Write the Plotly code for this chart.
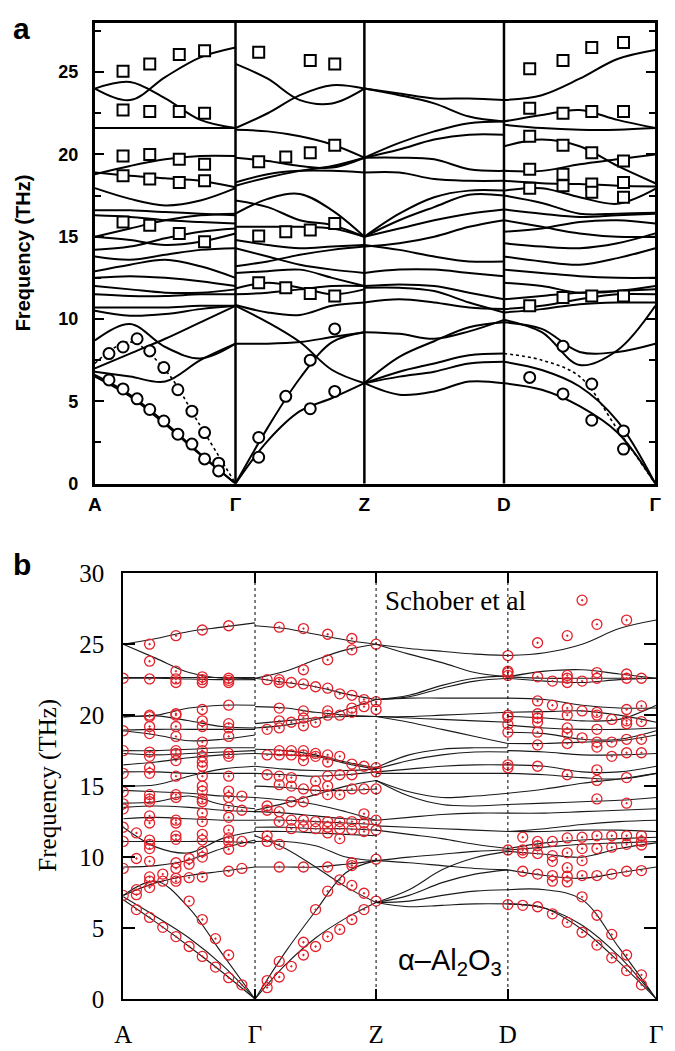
import plotly.graph_objects as go

W, H = 675, 1051
LABELS = ["A", "Γ", "Z", "D", "Γ"]
A_NODES = [0, 144, 276, 419, 574]      # path length along A-Γ-Z-D-Γ (panel a)
B_NODES = [0, 135, 259, 394, 546]      # path length along A-Γ-Z-D-Γ (panel b)

# ---------------- panel a: calculated branches (5 samples per segment) ----------------
A_SEG1 = [
    [24.0, 23.3, 24.7, 25.9, 26.5], [24.0, 24.4, 23.4, 22.1, 21.6], [21.6, 21.6, 21.6, 21.6, 21.6],
    [18.8, 19.3, 19.7, 19.9, 19.9], [18.9, 18.7, 18.55, 18.4, 18.0], [17.95, 17.3, 16.9, 17.2, 17.95],
    [16.6, 16.6, 16.5, 16.4, 16.3], [16.3, 16.2, 16.0, 15.9, 15.8], [15.0, 15.5, 16.0, 16.3, 16.4],
    [15.0, 14.8, 14.5, 14.7, 15.2], [14.2, 14.4, 14.9, 15.3, 15.5], [13.8, 13.6, 13.9, 14.2, 14.3],
    [12.9, 13.3, 13.6, 13.2, 12.5], [12.5, 12.6, 12.5, 12.3, 12.0], [12.0, 11.8, 11.6, 11.6, 11.8],
    [11.5, 11.4, 11.4, 11.5, 11.5], [10.7, 10.7, 10.7, 10.8, 10.8], [10.5, 10.2, 10.3, 10.6, 10.8],
    [8.7, 9.7, 8.3, 7.6, 8.5], [7.0, 7.9, 8.8, 9.8, 10.8], [6.8, 6.5, 6.2, 7.5, 8.5],
    [6.6, 5.4, 3.7, 1.8, 0.0], [6.5, 5.3, 3.6, 1.75, 0.0],
]
A_SEG2 = [
    [25.5, 24.6, 23.3, 23.1, 24.0], [21.6, 22.5, 23.6, 24.2, 24.0], [21.5, 21.4, 21.1, 20.6, 19.8],
    [19.8, 19.6, 19.3, 19.2, 19.8], [18.1, 18.6, 19.0, 19.3, 19.8], [18.3, 18.8, 19.0, 19.0, 18.9],
    [16.4, 17.3, 17.6, 16.6, 15.0], [17.2, 16.8, 16.0, 15.7, 15.0], [15.6, 15.6, 15.6, 15.5, 15.0],
    [14.8, 14.5, 14.3, 14.4, 14.5], [14.3, 13.8, 13.3, 13.0, 12.8], [13.2, 13.5, 13.9, 14.2, 14.4],
    [12.8, 12.9, 13.0, 12.5, 12.0], [11.85, 12.2, 11.9, 11.5, 11.8], [11.5, 11.6, 11.8, 12.0, 12.0],
    [10.85, 10.4, 10.25, 10.8, 11.0], [10.8, 9.8, 8.6, 6.9, 6.1], [8.5, 8.5, 8.6, 8.9, 9.2],
    [0.0, 3.4, 6.4, 8.6, 9.2], [0.0, 2.6, 4.4, 5.2, 6.1],
]
A_SEG3 = [
    [24.0, 23.7, 23.4, 23.4, 23.3], [24.0, 23.6, 23.1, 22.3, 22.0], [19.8, 20.7, 21.4, 21.9, 22.0],
    [19.8, 20.3, 20.9, 21.2, 21.2], [19.8, 19.8, 19.7, 19.1, 19.0], [18.9, 18.9, 18.5, 18.4, 18.4],
    [15.0, 16.4, 17.4, 17.8, 17.8], [15.0, 16.0, 16.8, 17.55, 17.5], [15.0, 15.5, 16.0, 16.4, 16.65],
    [14.4, 14.6, 15.0, 15.6, 16.0], [14.5, 14.2, 13.8, 13.5, 13.5], [12.8, 13.0, 13.0, 12.8, 12.6],
    [12.0, 12.1, 12.0, 11.6, 11.2], [11.9, 11.9, 11.7, 11.0, 10.4], [11.0, 11.2, 11.0, 10.7, 10.6],
    [9.2, 9.1, 8.8, 9.25, 9.95], [6.1, 7.7, 8.65, 9.5, 9.8], [6.1, 6.8, 7.3, 7.8, 7.9],
    [6.1, 6.5, 6.8, 7.3, 7.4], [6.1, 5.4, 5.6, 6.2, 6.1],
]
A_SEG4 = [
    [23.3, 23.6, 24.6, 25.8, 26.35], [22.0, 22.4, 22.7, 22.1, 21.6], [21.8, 21.6, 21.5, 21.5, 21.6],
    [20.5, 20.9, 20.5, 19.3, 18.25], [19.0, 19.0, 19.4, 19.7, 20.0], [18.4, 18.25, 18.2, 18.1, 18.05],
    [17.8, 17.95, 17.4, 17.0, 17.9], [17.5, 17.05, 16.4, 16.4, 16.45], [16.65, 16.4, 16.2, 16.3, 16.4],
    [16.0, 15.6, 15.2, 15.0, 15.0], [15.3, 15.5, 15.9, 16.0, 15.8], [14.6, 14.4, 14.3, 14.6, 15.2],
    [13.8, 13.5, 13.3, 13.7, 14.3], [13.0, 12.8, 12.6, 12.5, 12.5], [12.2, 12.0, 11.6, 11.7, 12.0],
    [11.2, 11.4, 11.6, 11.7, 11.8], [10.6, 10.8, 11.2, 11.5, 11.5], [10.4, 10.6, 10.9, 11.0, 11.0],
    [9.95, 9.2, 7.2, 8.1, 10.8], [9.8, 9.4, 8.0, 8.0, 8.5],
    [7.4, 6.9, 5.9, 3.8, 0.0], [6.1, 5.7, 4.7, 3.1, 0.0],
]
A_DOTTED_SEG1 = [[7.3, 8.6, 6.9, 3.5, 0.0]]
A_DOTTED_SEG4 = [[7.9, 7.5, 6.5, 3.3, 0.0]]

# panel a experiment: (segment, fraction along segment, frequencies)
A_SQUARES = [
    (0, 0.20, [25.06, 22.7, 19.9, 18.7, 15.9]), (0, 0.39, [25.5, 22.6, 20.0, 18.5, 15.7]),
    (0, 0.60, [26.07, 22.6, 19.7, 18.3, 15.2]), (0, 0.78, [26.3, 22.5, 19.4, 18.4, 14.7]),
    (1, 0.18, [26.2, 19.55, 15.05, 12.2]), (1, 0.39, [19.85, 15.3, 11.9]),
    (1, 0.58, [25.7, 20.1, 15.4, 11.55]), (1, 0.77, [25.5, 20.55, 15.8, 11.4]),
    (3, 0.17, [25.2, 22.8, 21.1, 19.1, 17.95, 10.8]), (3, 0.39, [25.7, 22.5, 20.55, 18.8, 18.1, 11.3]),
    (3, 0.58, [26.5, 22.6, 20.1, 18.2, 17.7, 11.4]), (3, 0.79, [26.8, 22.6, 19.6, 18.3, 17.4, 11.4]),
]
A_CIRCLES = [
    (0, 0.10, [7.9, 6.3]), (0, 0.20, [8.3, 5.75]), (0, 0.30, [8.8, 5.15]), (0, 0.39, [8.06, 4.5]),
    (0, 0.49, [7.05, 3.8]), (0, 0.59, [5.7, 3.0]), (0, 0.69, [4.4, 2.4]), (0, 0.78, [3.1, 1.5]),
    (0, 0.88, [1.24, 0.77]),
    (1, 0.18, [2.8, 1.6]), (1, 0.39, [5.3]), (1, 0.58, [7.5, 4.55]), (1, 0.77, [9.4, 5.6]),
    (3, 0.17, [6.45]), (3, 0.39, [8.35, 5.45]), (3, 0.58, [6.05, 3.85]), (3, 0.79, [3.2, 2.1]),
]

# ---------------- panel b: calculated branches ----------------
B_SEG1 = [
    [25.0, 25.4, 25.9, 26.2, 26.5], [25.0, 24.0, 23.0, 22.6, 22.6], [22.65, 22.65, 22.65, 22.65, 22.65],
    [22.6, 22.6, 22.55, 22.5, 22.5], [19.9, 20.0, 20.5, 20.7, 20.7], [19.85, 19.95, 19.6, 19.2, 19.1],
    [18.95, 19.0, 19.0, 19.0, 19.0], [18.9, 18.6, 18.2, 18.3, 18.6], [17.5, 17.5, 17.6, 17.7, 17.7],
    [17.3, 17.2, 17.3, 17.4, 17.5], [16.5, 16.7, 17.0, 17.2, 17.3], [16.0, 16.0, 15.9, 15.9, 15.9],
    [15.0, 15.1, 15.7, 16.2, 16.4], [14.7, 14.6, 14.5, 14.3, 14.2], [13.8, 13.9, 14.3, 13.7, 13.4],
    [13.5, 13.6, 13.5, 13.3, 13.2], [12.7, 12.8, 12.7, 12.6, 12.6], [12.1, 10.7, 10.3, 11.3, 11.8],
    [11.1, 11.1, 11.1, 11.1, 11.0], [9.3, 9.4, 9.8, 10.6, 11.2], [7.3, 8.2, 8.7, 9.0, 9.3],
    [7.3, 8.3, 6.4, 3.2, 0.0], [7.2, 5.8, 4.3, 2.4, 0.0], [7.0, 5.4, 3.7, 1.9, 0.0],
]
B_SEG2 = [
    [26.3, 26.1, 25.7, 25.3, 25.0], [22.6, 23.1, 23.9, 24.6, 25.0], [22.6, 22.3, 22.0, 21.5, 21.1],
    [20.6, 20.5, 20.2, 20.0, 19.9], [19.1, 19.3, 19.7, 20.4, 21.1], [19.4, 19.6, 19.8, 19.9, 19.9],
    [17.6, 17.5, 17.2, 16.7, 16.3], [17.3, 17.2, 17.1, 16.6, 16.2], [16.4, 16.2, 16.1, 16.1, 16.2],
    [15.9, 15.8, 15.7, 15.8, 16.0], [15.0, 14.9, 14.7, 14.7, 14.8], [13.3, 13.8, 14.4, 15.0, 15.4],
    [14.2, 14.0, 13.7, 13.2, 12.6], [13.2, 13.1, 12.9, 12.7, 12.6], [12.6, 12.6, 12.5, 12.4, 12.3],
    [12.1, 12.1, 12.0, 12.0, 11.9], [11.8, 11.8, 11.7, 11.6, 11.5], [11.5, 10.6, 9.3, 7.9, 6.8],
    [11.1, 11.1, 10.8, 10.0, 9.75], [9.3, 9.3, 9.3, 9.5, 9.75], [0.0, 3.3, 6.2, 8.9, 9.75],
    [0.0, 2.4, 4.3, 5.7, 6.8],
]
B_SEG3 = [
    [25.0, 24.7, 24.5, 24.3, 24.2], [25.0, 24.3, 23.7, 23.0, 22.7], [21.1, 21.4, 22.1, 22.6, 22.75],
    [21.1, 21.3, 21.9, 22.4, 22.6], [21.1, 21.2, 21.2, 21.2, 21.2], [19.9, 19.9, 20.0, 20.1, 20.2],
    [19.9, 19.8, 19.7, 19.6, 19.5], [19.9, 19.5, 19.0, 18.5, 18.0], [16.3, 17.2, 17.6, 17.7, 17.7],
    [16.2, 16.8, 17.2, 17.4, 17.4], [16.0, 16.2, 16.4, 16.5, 16.5], [15.9, 15.9, 15.9, 15.9, 15.9],
    [15.4, 14.6, 14.2, 14.3, 14.5], [15.4, 14.3, 13.7, 13.6, 13.7], [12.6, 12.8, 13.0, 13.1, 13.1],
    [12.2, 12.1, 12.0, 11.9, 11.8], [11.9, 11.6, 11.3, 10.9, 10.6], [9.75, 9.6, 9.4, 9.2, 9.1],
    [9.75, 10.0, 10.2, 10.4, 10.5], [6.8, 7.7, 9.1, 9.95, 10.4], [6.8, 7.3, 8.2, 8.8, 9.1],
    [6.8, 6.9, 7.3, 7.6, 7.7], [6.8, 6.5, 6.6, 6.7, 6.7],
]
B_SEG4 = [
    [24.2, 24.4, 25.0, 26.1, 26.7], [22.7, 23.1, 23.2, 22.9, 22.6], [22.7, 22.6, 22.6, 22.6, 22.6],
    [22.6, 22.4, 22.3, 22.5, 22.6], [21.2, 21.1, 20.7, 20.5, 20.5], [20.2, 20.25, 20.3, 20.0, 19.5],
    [19.9, 19.8, 19.6, 19.7, 20.7], [19.3, 19.1, 19.0, 19.0, 19.1], [18.8, 18.7, 18.3, 18.3, 18.9],
    [18.0, 18.0, 18.1, 18.2, 18.6], [17.5, 17.4, 17.2, 17.2, 17.3], [16.5, 16.4, 16.0, 16.0, 16.4],
    [15.9, 15.8, 15.6, 15.5, 15.9], [14.5, 14.8, 15.2, 15.5, 15.9], [13.7, 13.8, 13.9, 14.0, 14.2],
    [13.1, 13.1, 13.2, 13.3, 13.4], [11.8, 12.0, 12.3, 12.5, 12.6], [11.8, 11.8, 11.9, 11.9, 11.8],
    [10.6, 11.0, 11.2, 11.3, 11.4], [10.5, 10.7, 10.9, 11.0, 11.1], [10.4, 10.2, 10.0, 10.6, 11.0],
    [9.1, 8.7, 8.5, 8.9, 9.3], [7.7, 7.7, 7.0, 3.6, 0.0], [6.7, 6.4, 4.9, 2.6, 0.0],
    [6.7, 6.4, 5.2, 3.0, 0.0],
]

# panel b experiment (Schober et al): (segment, fraction, frequencies)
B_CIRCLES = [
    (0, 0.0, [22.6, 18.9, 17.5, 15.9, 14.6, 13.75, 13.4, 12.1, 11.1, 9.2, 7.3]),
    (0, 0.1, [11.7, 9.9, 7.7, 7.35, 6.3]),
    (0, 0.2, [25.0, 23.8, 22.55, 20.0, 19.9, 19.2, 18.7, 17.4, 17.1, 16.3, 15.9, 14.4, 14.1, 13.9,
              12.9, 12.4, 11.2, 10.9, 10.6, 9.7, 8.6, 8.3, 7.85, 5.75]),
    (0, 0.3, [8.8, 8.3, 5.05]),
    (0, 0.4, [25.6, 23.1, 22.55, 22.3, 20.1, 20.0, 19.2, 18.5, 17.5, 17.3, 16.8, 15.7, 14.4, 14.2,
              12.6, 12.4, 11.5, 11.25, 9.6, 9.2, 8.5, 8.3, 4.4]),
    (0, 0.5, [9.9, 9.5, 8.55, 6.9, 3.7]),
    (0, 0.6, [26.0, 22.7, 22.5, 22.3, 20.4, 19.6, 19.2, 18.1, 17.5, 17.1, 16.7, 16.4, 15.7, 15.0,
              14.65, 14.1, 13.9, 13.1, 12.5, 11.6, 11.2, 10.4, 10.0, 8.6, 5.6, 3.0]),
    (0, 0.7, [4.25, 2.25]),
    (0, 0.8, [26.3, 22.6, 22.45, 22.3, 20.7, 19.4, 19.1, 18.5, 17.3, 17.1, 15.7, 14.65, 14.2, 13.5,
              12.8, 11.9, 11.35, 11.1, 10.55, 9.0, 3.1, 1.5]),
    (0, 0.9, [14.3, 13.3, 11.1, 9.2, 1.0]),
    (1, 0.1, [22.5, 19.0, 17.2, 15.8, 13.6, 13.3, 11.5, 11.1, 1.3, 0.8]),
    (1, 0.2, [26.2, 22.5, 22.3, 20.5, 19.6, 19.1, 17.5, 17.2, 15.7, 15.1, 13.2, 12.5, 10.9, 9.3, 2.65, 1.55]),
    (1, 0.3, [22.3, 19.5, 17.5, 17.2, 15.6, 15.0, 13.9, 12.6, 12.0, 2.3]),
    (1, 0.4, [26.1, 23.2, 22.2, 20.3, 19.8, 19.25, 17.5, 17.2, 16.8, 14.8, 13.9, 12.6, 12.15, 9.3, 4.0, 3.1]),
    (1, 0.5, [22.0, 19.5, 17.3, 17.1, 15.35, 14.7, 12.5, 12.0, 6.3, 3.7]),
    (1, 0.6, [25.7, 23.9, 21.9, 20.3, 20.0, 17.2, 16.7, 15.7, 15.0, 14.4, 12.5, 12.1, 11.7, 9.3, 7.6, 4.4]),
    (1, 0.7, [21.5, 20.0, 17.1, 15.8, 14.4, 12.5, 12.0, 11.3, 8.4, 4.9]),
    (1, 0.8, [25.4, 24.6, 21.4, 20.5, 20.2, 16.55, 15.8, 14.8, 12.5, 11.95, 9.6, 9.4, 8.0, 5.6]),
    (1, 0.9, [21.1, 20.6, 16.4, 14.8, 13.05, 12.4, 11.8, 7.45, 6.3]),
    (1, 1.0, [25.0, 20.95, 20.4, 16.3, 16.0, 14.8, 12.6, 11.9, 9.85, 6.9]),
    (2, 1.0, [24.2, 23.1, 23.0, 22.8, 20.0, 19.85, 19.35, 18.8, 16.5, 16.3, 10.5, 6.65]),
    (3, 0.1, [11.4, 10.5, 10.3, 9.0, 6.6]),
    (3, 0.2, [25.1, 22.7, 21.0, 20.1, 19.8, 19.5, 18.8, 17.9, 16.4, 11.1, 10.8, 10.25, 8.8, 6.5]),
    (3, 0.3, [22.4, 20.7, 11.1, 10.1, 9.7, 8.7, 8.3, 6.0]),
    (3, 0.4, [25.6, 22.8, 22.6, 22.3, 20.5, 20.0, 19.1, 18.7, 18.0, 15.8, 11.35, 10.3, 9.25, 8.65, 8.25, 5.4]),
    (3, 0.5, [28.1, 22.4, 20.3, 18.4, 11.4, 10.6, 9.75, 8.7, 7.2, 4.7]),
    (3, 0.6, [26.4, 23.0, 22.6, 20.2, 20.0, 19.0, 18.1, 17.75, 16.15, 15.4, 14.1, 11.5, 10.6, 8.7, 5.9, 3.8]),
    (3, 0.7, [19.7, 18.1, 17.1, 11.5, 10.7, 8.8, 4.55, 2.9]),
    (3, 0.8, [26.7, 22.9, 22.6, 20.4, 19.6, 19.4, 18.3, 17.35, 15.6, 13.8, 11.5, 10.9, 9.0, 3.1, 2.0]),
    (3, 0.9, [22.6, 20.65, 19.55, 18.3, 17.35, 11.5, 11.1, 10.85, 9.05, 1.7, 1.0]),
]

SANS = "Liberation Sans, Arial, sans-serif"
SERIF = "Liberation Serif, Times New Roman, serif"


def seg_x(nodes, s, frac):
    return nodes[s] + frac * (nodes[s + 1] - nodes[s])


def band_xy(nodes, segments):
    xs, ys = [], []
    for s, bands in enumerate(segments):
        for band in bands:
            n = len(band)
            for i, v in enumerate(band):
                xs.append(seg_x(nodes, s, i / (n - 1)))
                ys.append(v)
            xs.append(None)
            ys.append(None)
    return xs, ys


def marker_xy(nodes, cols):
    xs, ys = [], []
    for s, frac, freqs in cols:
        for v in freqs:
            xs.append(seg_x(nodes, s, frac))
            ys.append(v)
    return xs, ys


fig = go.Figure()

# ---- panel a ----
ax, ay = band_xy(A_NODES, [A_SEG1, A_SEG2, A_SEG3, A_SEG4])
fig.add_trace(go.Scatter(x=ax, y=ay, mode="lines", line=dict(color="black", width=2, shape="spline", smoothing=1.0),
                         xaxis="x", yaxis="y", showlegend=False, hoverinfo="skip"))
dx, dy = band_xy(A_NODES, [A_DOTTED_SEG1, [], [], A_DOTTED_SEG4])
fig.add_trace(go.Scatter(x=dx, y=dy, mode="lines", line=dict(color="black", width=1.6, dash="dot", shape="spline"),
                         xaxis="x", yaxis="y", showlegend=False, hoverinfo="skip"))
sx, sy = marker_xy(A_NODES, A_SQUARES)
fig.add_trace(go.Scatter(x=sx, y=sy, mode="markers", xaxis="x", yaxis="y", showlegend=False,
                         marker=dict(symbol="square", size=11, color="white", line=dict(color="black", width=2))))
cx, cy = marker_xy(A_NODES, A_CIRCLES)
fig.add_trace(go.Scatter(x=cx, y=cy, mode="markers", xaxis="x", yaxis="y", showlegend=False,
                         marker=dict(symbol="circle", size=11, color="white", line=dict(color="black", width=2))))

# ---- panel b ----
bx, by = band_xy(B_NODES, [B_SEG1, B_SEG2, B_SEG3, B_SEG4])
fig.add_trace(go.Scatter(x=bx, y=by, mode="lines", line=dict(color="#1a1a1a", width=1.1, shape="spline", smoothing=1.0),
                         xaxis="x2", yaxis="y2", showlegend=False, hoverinfo="skip"))
rx, ry = marker_xy(B_NODES, B_CIRCLES)
fig.add_trace(go.Scatter(x=rx, y=ry, mode="markers", xaxis="x2", yaxis="y2", showlegend=False,
                         marker=dict(symbol="circle-open-dot", size=10, color="#e3222b", line=dict(color="#e3222b", width=1.3))))

shapes = []
for xv in A_NODES[1:-1]:
    shapes.append(dict(type="line", xref="x", yref="y domain", x0=xv, x1=xv, y0=0, y1=1,
                       line=dict(color="black", width=2.5)))
for xv in B_NODES[1:-1]:
    shapes.append(dict(type="line", xref="x2", yref="y2 domain", x0=xv, x1=xv, y0=0, y1=1,
                       line=dict(color="black", width=1, dash="dot")))


def px(x):
    return x / W


def py(y):
    return 1 - y / H


def note(text, x, y, font, angle=0):
    return dict(text=text, x=px(x), y=py(y), xref="paper", yref="paper", showarrow=False,
                xanchor="center", yanchor="middle", textangle=angle, font=font)


fig.update_layout(
    width=W, height=H, margin=dict(l=0, r=0, t=0, b=0),
    paper_bgcolor="white", plot_bgcolor="white", showlegend=False,
    shapes=shapes,
    xaxis=dict(domain=[px(88), px(662)], range=[A_NODES[0], A_NODES[-1]], tickvals=A_NODES,
               ticktext=["<b>%s</b>" % t for t in LABELS], ticks="", showgrid=False, zeroline=False,
               showline=True, linecolor="black", linewidth=3, mirror=True, ticklabelstandoff=2,
               tickfont=dict(family=SANS, size=19, color="black")),
    yaxis=dict(domain=[py(483), py(10)], range=[0, 28], tickvals=[0, 5, 10, 15, 20, 25],
               ticktext=["<b>%d</b>" % v for v in [0, 5, 10, 15, 20, 25]],
               ticks="inside", ticklen=9, tickwidth=2, tickcolor="black", mirror="ticks",
               minor=dict(ticks="inside", dtick=2.5, ticklen=6, tickwidth=2, tickcolor="black"),
               showgrid=False, zeroline=False, showline=True, linecolor="black", linewidth=3,
               ticklabelstandoff=10, tickfont=dict(family=SANS, size=18, color="black")),
    xaxis2=dict(domain=[px(117), px(663)], range=[B_NODES[0], B_NODES[-1]], tickvals=B_NODES,
                ticktext=LABELS, ticks="inside", ticklen=10, tickwidth=1.5, tickcolor="black", mirror="ticks",
                showgrid=False, zeroline=False, showline=True, linecolor="black", linewidth=2,
                ticklabelstandoff=12, tickfont=dict(family=SERIF, size=25, color="black"), anchor="y2"),
    yaxis2=dict(domain=[py(1012), py(575)], range=[0, 30], dtick=5, anchor="x2",
                ticks="inside", ticklen=12, tickwidth=1.5, tickcolor="black", mirror="ticks",
                showgrid=False, zeroline=False, showline=True, linecolor="black", linewidth=2,
                ticklabelstandoff=12, tickfont=dict(family=SERIF, size=25, color="black")),
    annotations=[
        note("<b>a</b>", 13, 16, dict(family=SANS, size=30, color="black")),
        note("<b>b</b>", 13, 566, dict(family=SANS, size=30, color="black")),
        note("<b>Frequency (THz)</b>", 14, 246, dict(family=SANS, size=20, color="black"), -90),
        note("Frequency (THz)", 40, 793, dict(family=SERIF, size=25, color="black"), -90),
        note("Schober et al", 457, 603, dict(family=SERIF, size=27, color="black")),
        note("α–Al<sub>2</sub>O<sub>3</sub>", 452, 974, dict(family=SANS, size=29, color="black")),
    ],
)

fig.write_html("out.html", config={"displayModeBar": False},
               post_script="document.body.style.margin='0px';")
